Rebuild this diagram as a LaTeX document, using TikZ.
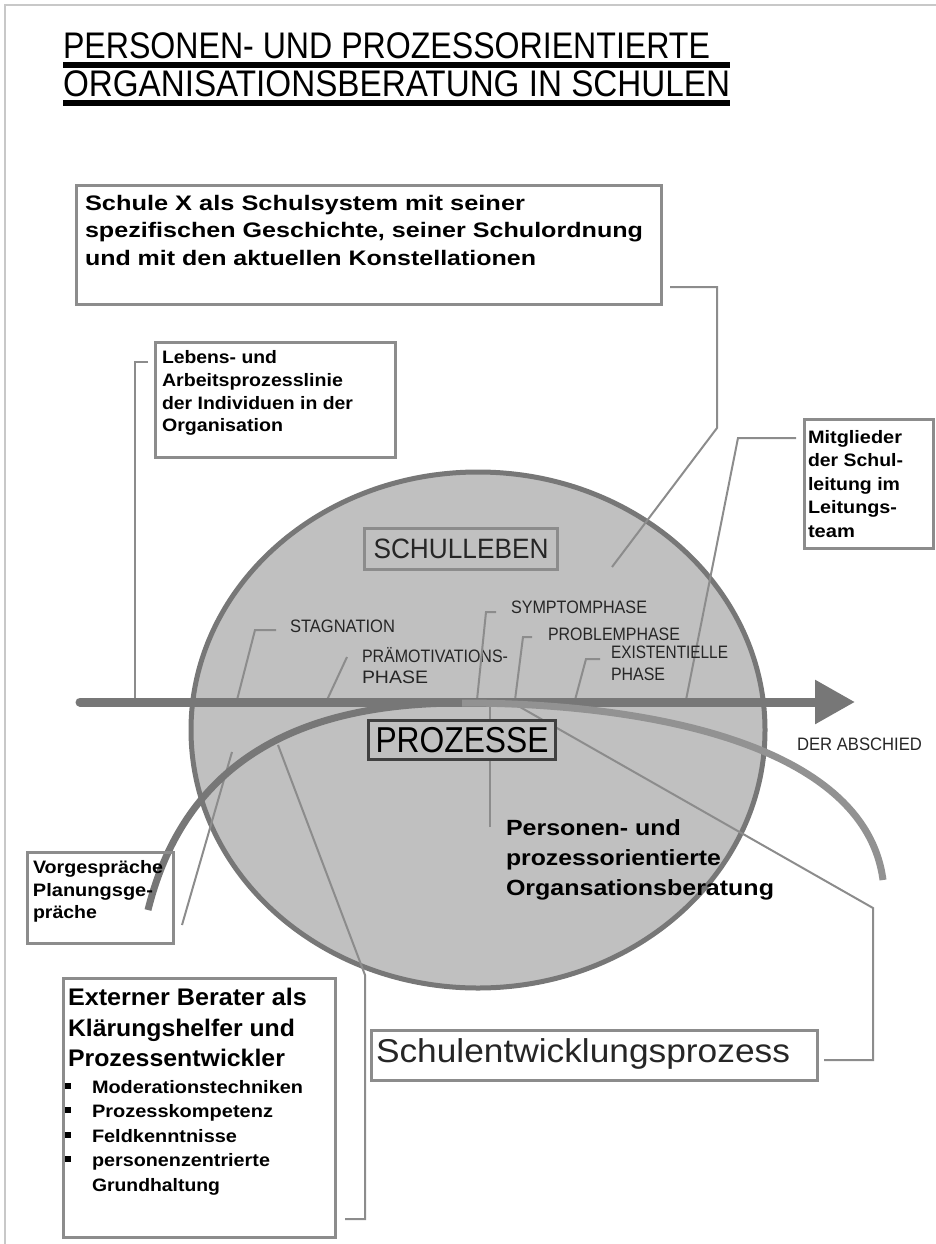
\documentclass[tikz,border=0pt]{standalone}
\usepackage{fontspec}
\setmainfont{Liberation Sans}
\usetikzlibrary{shapes.geometric,arrows.meta}
\definecolor{cfill}{HTML}{C0C0C0}
\definecolor{cedge}{HTML}{777777}
\definecolor{bgray}{HTML}{8C8C8C}
\definecolor{lgray}{HTML}{929292}
\definecolor{framec}{HTML}{C8C8C8}
\definecolor{dtext}{HTML}{262626}
\definecolor{pbox}{HTML}{404040}
\newcommand\fitw[2]{\resizebox{#1pt}{\height}{#2}}
\begin{document}
\begin{tikzpicture}[x=1pt,y=-1pt,
 txt/.style={inner sep=0pt, outer sep=0pt, anchor=base west},
 box/.style={draw=bgray, line width=3pt, inner sep=0pt, outer sep=0pt, anchor=north west},
 conn/.style={draw=bgray, line width=2pt},
 ttl/.style={txt, font=\fontsize{37}{40}\selectfont},
 topt/.style={txt, font=\fontsize{21}{24}\selectfont\bfseries},
 small/.style={txt, font=\fontsize{18}{21}\selectfont\bfseries},
 ext/.style={txt, font=\fontsize{24}{27}\selectfont\bfseries},
 bul/.style={txt, font=\fontsize{18}{21}\selectfont\bfseries},
 pers/.style={txt, font=\fontsize{22}{25}\selectfont\bfseries},
 phase/.style={txt, font=\fontsize{18}{21}\selectfont, text=dtext},
 bsq/.style={fill=black, minimum size=6pt, inner sep=0pt},
]
\useasboundingbox (0,0) rectangle (936,1244);
% frame
\draw[framec, line width=2pt] (936,5) -- (5,5) -- (5,1244);

% title
\node[ttl] (t1) at (63,59) {\fitw{647}{PERSONEN- UND PROZESSORIENTIERTE}};
\node[ttl] (t2) at (63,97) {\fitw{667}{ORGANISATIONSBERATUNG IN SCHULEN}};
\fill[black] (63,62) rectangle (730,68);
\fill[black] (63,100) rectangle (730,106);

% big circle
\node[ellipse, draw=cedge, fill=cfill, line width=5pt, minimum width=574pt, minimum height=516pt, inner sep=0pt] (circ) at (478,730) {};

% coordinates for connectors
\coordinate (arrS) at (80,702);
\coordinate (arrE) at (855,702);
\coordinate (cvL) at (148,910);
\coordinate (cvM) at (462,703);
\coordinate (cvR) at (883,880);

% top box
\node[box, minimum width=585pt, minimum height=119pt] (topbox) at (76,185) {};
\node[topt] (tb1) at (85,210) {\fitw{440}{Schule X als Schulsystem mit seiner}};
\node[topt] (tb2) at (85,237) {\fitw{558}{spezifischen Geschichte, seiner Schulordnung}};
\node[topt] (tb3) at (85,265) {\fitw{451}{und mit den aktuellen Konstellationen}};
\coordinate (tbA) at (670,287);
\coordinate (tbB) at (717,287);
\coordinate (tbC) at (717,428);
\coordinate (tbD) at (612,567);
\draw[conn] (tbA) -- (tbB) -- (tbC) -- (tbD);

% left box: Lebens- und Arbeitsprozesslinie
\node[box, minimum width=240pt, minimum height=115pt] (lebbox) at (155,342) {};
\node[small] (lb1) at (162,363) {\fitw{115}{Lebens- und}};
\node[small] (lb2) at (162,386) {\fitw{181}{Arbeitsprozesslinie}};
\node[small] (lb3) at (162,409) {\fitw{191}{der Individuen in der}};
\node[small] (lb4) at (162,431) {\fitw{121}{Organisation}};
\coordinate (lbA) at (148,362);
\coordinate (lbB) at (135,362);
\coordinate (lbC) at (135,700);
\draw[conn] (lbA) -- (lbB) -- (lbC);

% right box: Mitglieder
\node[box, minimum width=129pt, minimum height=129pt] (mitbox) at (804,419) {};
\node[small] (mb1) at (808,443) {\fitw{94}{Mitglieder}};
\node[small] (mb2) at (808,466) {\fitw{95}{der Schul-}};
\node[small] (mb3) at (808,490) {\fitw{92}{leitung im}};
\node[small] (mb4) at (808,513) {\fitw{89}{Leitungs-}};
\node[small] (mb5) at (808,537) {\fitw{47}{team}};
\coordinate (mbA) at (796,438);
\coordinate (mbB) at (738,438);
\coordinate (mbC) at (686,700);
\draw[conn] (mbA) -- (mbB) -- (mbC);

% SCHULLEBEN
\node[draw=bgray, line width=3pt, fill=cfill, minimum width=193pt, minimum height=41pt, inner sep=0pt, anchor=north west, font=\fontsize{28}{30}\selectfont, text=dtext] (schulleben) at (363,527) {\fitw{175}{SCHULLEBEN}};

% phase labels
\node[phase] (stag) at (290,632) {\fitw{105}{STAGNATION}};
\node[phase] (pram1) at (362,662) {\fitw{146}{PRÄMOTIVATIONS-}};
\node[phase] (pram2) at (362,683) {\fitw{66}{PHASE}};
\node[phase] (symp) at (511,613) {\fitw{136}{SYMPTOMPHASE}};
\node[phase] (prob) at (548,640) {\fitw{132}{PROBLEMPHASE}};
\node[phase] (exis1) at (611,658) {\fitw{117}{EXISTENTIELLE}};
\node[phase] (exis2) at (611,680) {\fitw{54}{PHASE}};
\node[phase] (absch) at (797,750) {\fitw{125}{DER ABSCHIED}};

\coordinate (stA) at (276,630); \coordinate (stB) at (255,630); \coordinate (stC) at (237,700);
\draw[conn] (stA) -- (stB) -- (stC);
\coordinate (prA) at (347,657); \coordinate (prB) at (327,700);
\draw[conn] (prA) -- (prB);
\coordinate (syA) at (496,612); \coordinate (syB) at (486,612); \coordinate (syC) at (477,700);
\draw[conn] (syA) -- (syB) -- (syC);
\coordinate (pbA) at (532,637); \coordinate (pbB) at (523,637); \coordinate (pbC) at (515,700);
\draw[conn] (pbA) -- (pbB) -- (pbC);
\coordinate (exA) at (600,659); \coordinate (exB) at (586,659); \coordinate (exC) at (575,700);
\draw[conn] (exA) -- (exB) -- (exC);

% Personen- und prozessorientierte Organsationsberatung
\coordinate (peA) at (490,827);
\coordinate (peB) at (490,705);
\draw[conn] (peA) -- (peB);
\node[pers] (pe1) at (506,835) {\fitw{175}{Personen- und}};
\node[pers] (pe2) at (506,865) {\fitw{215}{prozessorientierte}};
\node[pers] (pe3) at (506,895) {\fitw{268}{Organsationsberatung}};

% Schulentwicklungsprozess connector
\coordinate (seA) at (824,1060);
\coordinate (seB) at (873,1060);
\coordinate (seC) at (873,908);
\coordinate (seD) at (513,703);
\draw[conn] (seA) -- (seB) -- (seC) -- (seD);

% Vorgespraeche connector
\coordinate (voA) at (182,925);
\coordinate (voB) at (232,752);
\draw[conn] (voA) -- (voB);

% Externer Berater connector
\coordinate (exbA) at (345,1219);
\coordinate (exbB) at (365,1219);
\coordinate (exbC) at (365,975);
\coordinate (exbD) at (278,745);
\draw[conn] (exbA) -- (exbB) -- (exbC) -- (exbD);

% main arrow
\draw[cedge, line width=9pt, line cap=round, -{Triangle[length=40pt,width=42pt]}] (arrS) -- (arrE);

% process curve
\draw[cedge, line width=7pt] (cvL) .. controls (190,740) and (330,703) .. (cvM);
\draw[lgray, line width=7pt] (cvM) .. controls (650,703) and (865,745) .. (cvR);

% PROZESSE box
\node[draw=pbox, line width=3pt, fill=cfill, minimum width=187pt, minimum height=39pt, inner sep=0pt, anchor=north west, font=\fontsize{36}{38}\selectfont] (prozesse) at (367,719) {\fitw{173}{PROZESSE}};

% Vorgespraeche box
\node[box, minimum width=146pt, minimum height=91pt] (vorbox) at (27,852) {};
\node[small] (vb1) at (33,873) {\fitw{130}{Vorgespräche}};
\node[small] (vb2) at (33,896) {\fitw{120}{Planungsge-}};
\node[small] (vb3) at (33,918) {\fitw{64}{präche}};

% Externer Berater box
\node[box, minimum width=272pt, minimum height=259pt] (extbox) at (63,978) {};
\node[ext] (eb1) at (68,1005) {\fitw{239}{Externer Berater als}};
\node[ext] (eb2) at (68,1036) {\fitw{227}{Klärungshelfer und}};
\node[ext] (eb3) at (68,1066) {\fitw{217}{Prozessentwickler}};
\node[bsq] (bq1) at (68,1086) {};
\node[bsq] (bq2) at (68,1110) {};
\node[bsq] (bq3) at (68,1135) {};
\node[bsq] (bq4) at (68,1159) {};
\node[bul] (eu1) at (92,1093) {\fitw{211}{Moderationstechniken}};
\node[bul] (eu2) at (92,1117) {\fitw{181}{Prozesskompetenz}};
\node[bul] (eu3) at (92,1142) {\fitw{145}{Feldkenntnisse}};
\node[bul] (eu4) at (92,1166) {\fitw{178}{personenzentrierte}};
\node[bul] (eu5) at (92,1191) {\fitw{128}{Grundhaltung}};

% Schulentwicklungsprozess box
\node[box, minimum width=446pt, minimum height=50pt] (sebox) at (371,1030) {};
\node[txt, font=\fontsize{33}{36}\selectfont, text=dtext] (setext) at (376,1062) {\fitw{414}{Schulentwicklungsprozess}};
\end{tikzpicture}
\end{document}
